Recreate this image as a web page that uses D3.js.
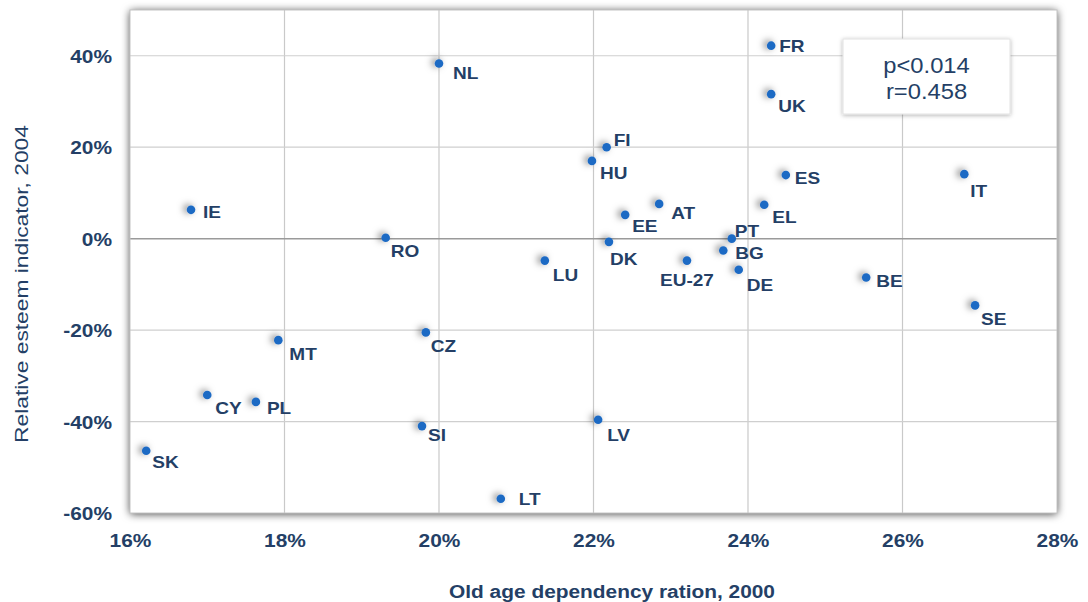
<!DOCTYPE html>
<html><head><meta charset="utf-8">
<script src="https://cdn.jsdelivr.net/npm/d3@7/dist/d3.min.js"></script>
<style>
html,body{margin:0;padding:0;background:#fff;}
svg{display:block;font-family:"Liberation Sans",Arial,sans-serif;}
</style></head>
<body>
<svg id="chart" width="1088" height="602"></svg>
<script>
const countries = ["FR","NL","UK","FI","HU","ES","IT","IE","AT","EE","EL","RO","PT","DK","BG","LU","EU-27","DE","BE","SE","CZ","MT","CY","PL","LV","SI","SK","LT"];
const dependency = [24.30,20.00,24.30,22.17,21.98,24.49,26.80,16.79,22.85,22.41,24.21,19.31,23.79,22.20,23.68,21.37,23.21,23.88,25.53,26.94,19.83,17.92,17.00,17.63,22.06,19.78,16.21,20.80];
const esteem = [42.2,38.3,31.6,20.0,17.0,13.9,14.1,6.3,7.6,5.2,7.4,0.2,0.0,-0.7,-2.6,-4.8,-4.8,-6.8,-8.5,-14.6,-20.5,-22.2,-34.2,-35.7,-39.6,-41.0,-46.4,-56.9];
const xTicks = [16,18,20,22,24,26,28];
const yTicks = [-60,-40,-20,0,20,40];
const statLines = ["p<0.014","r=0.458"];
const xTitle = "Old age dependency ration, 2000";
const yTitle = "Relative esteem indicator, 2004";

const navy = "#243F66";
const SX = 1.16; // horizontal stretch of the reference typeface
const svg = d3.select("#chart");
const L = 130, R = 1057, T = 10, B = 513;
const x = d3.scaleLinear().domain([16,28]).range([L,R]);
const y = d3.scaleLinear().domain([-60,50]).range([B,T]);

const defs = svg.append("defs");
const f = defs.append("filter").attr("id","frameShadow").attr("x","-5%").attr("y","-8%").attr("width","110%").attr("height","116%");
f.append("feDropShadow").attr("dx",0).attr("dy",1).attr("stdDeviation",4.5).attr("flood-color","#000").attr("flood-opacity",0.75);
const f2 = defs.append("filter").attr("id","boxShadow").attr("x","-20%").attr("y","-20%").attr("width","140%").attr("height","140%");
f2.append("feDropShadow").attr("dx",0).attr("dy",1).attr("stdDeviation",2).attr("flood-color","#000").attr("flood-opacity",0.3);
const f3 = defs.append("filter").attr("id","ptShadow").attr("x","-300%").attr("y","-300%").attr("width","700%").attr("height","700%");
f3.append("feDropShadow").attr("dx",-3).attr("dy",-1).attr("stdDeviation",3.5).attr("flood-color","#000").attr("flood-opacity",0.5);

svg.append("rect").attr("x",L).attr("y",T).attr("width",R-L).attr("height",B-T)
  .attr("fill","#fff").attr("filter","url(#frameShadow)");

// gridlines
const g = svg.append("g");
g.selectAll("line.vx").data(xTicks.filter(d=>d>16&&d<28)).join("line")
  .attr("x1",d=>x(d)).attr("x2",d=>x(d)).attr("y1",T).attr("y2",B)
  .attr("stroke","#C9C9C9").attr("stroke-width",1.2);
g.selectAll("line.hy").data(yTicks.filter(d=>d>-60)).join("line")
  .attr("x1",L).attr("x2",R).attr("y1",d=>y(d)).attr("y2",d=>y(d))
  .attr("stroke",d=>d===0?"#9A9A9A":"#CFCFCF").attr("stroke-width",d=>d===0?1.5:1.2);
svg.append("rect").attr("x",L).attr("y",T).attr("width",R-L).attr("height",B-T)
  .attr("fill","none").attr("stroke","#C4C4C4").attr("stroke-width",1);

// axes (labels only)
const xAxis = d3.axisBottom(x).tickValues(xTicks).tickFormat(d=>d+"%").tickSize(0).tickPadding(0);
const xa = svg.append("g").attr("transform",`translate(0,${B+34})`).call(xAxis);
xa.select(".domain").remove();
xa.selectAll("text").attr("fill",navy).attr("font-size",18).attr("font-weight","bold")
  .attr("font-family","'Liberation Sans',Arial,sans-serif").attr("dy",0).attr("y",0)
  .attr("transform",`scale(${SX},1)`);

const yAxis = d3.axisLeft(y).tickValues(yTicks).tickFormat(d=>d+"%").tickSize(0).tickPadding(0);
const ya = svg.append("g").attr("transform",`translate(${L-18},0)`).call(yAxis);
ya.select(".domain").remove();
ya.selectAll("text").attr("fill",navy).attr("font-size",18).attr("font-weight","bold")
  .attr("font-family","'Liberation Sans',Arial,sans-serif").attr("dy","0.36em")
  .attr("transform",`scale(${SX},1)`);

// titles
svg.append("text").attr("transform",`translate(612,598) scale(${SX},1)`).attr("text-anchor","middle")
  .attr("fill",navy).attr("font-size",18).attr("font-weight","bold").text(xTitle);
svg.append("text").attr("transform",`translate(28,284) rotate(-90) scale(1.2,1)`).attr("text-anchor","middle")
  .attr("fill",navy).attr("font-size",19).text(yTitle);

// points
const data = countries.map((c,i)=>({c, xv:dependency[i], yv:esteem[i]}));
svg.append("g").selectAll("circle").data(data).join("circle")
  .attr("cx",d=>x(d.xv)).attr("cy",d=>y(d.yv)).attr("r",4.3)
  .attr("fill","#1F6BC4").attr("filter","url(#ptShadow)");

// label nudges (annotation layout, px relative to point)
const nudge = {
  "FR":[8,6],"NL":[14,15],"UK":[7,18],"FI":[7,-1],"HU":[8,18],"ES":[9,9],"IT":[6,23],
  "IE":[12,8],"AT":[12,15],"EE":[7,17],"EL":[8,18],"RO":[5,19],"PT":[3,-2],"DK":[1,23],
  "BG":[12,8],"LU":[8,20],"EU-27":[0,25,"middle"],"DE":[8,21],"BE":[10,9],"SE":[6,20],
  "CZ":[5,20],"MT":[11,20],"CY":[8,19],"PL":[11,12],"LV":[9,21],"SI":[6,15],"SK":[6,17],"LT":[18,6]
};
svg.append("g").selectAll("text").data(data).join("text")
  .attr("transform",d=>`translate(${x(d.xv)+nudge[d.c][0]},${y(d.yv)+nudge[d.c][1]}) scale(1.12,1)`)
  .attr("text-anchor",d=>nudge[d.c][2]||"start")
  .attr("fill",navy).attr("font-size",17).attr("font-weight","bold").text(d=>d.c);

// stats box
const bx = 843, by = 39, bw = 167, bh = 75;
svg.append("rect").attr("x",bx).attr("y",by).attr("width",bw).attr("height",bh)
  .attr("fill","#fff").attr("stroke","#E2E2E2").attr("filter","url(#boxShadow)");
svg.append("g").selectAll("text").data(statLines).join("text")
  .attr("transform",(d,i)=>`translate(${bx+bw/2},${by+34+i*26}) scale(1.08,1)`).attr("text-anchor","middle")
  .attr("fill",navy).attr("font-size",22).text(d=>d);
</script>
</body></html>
